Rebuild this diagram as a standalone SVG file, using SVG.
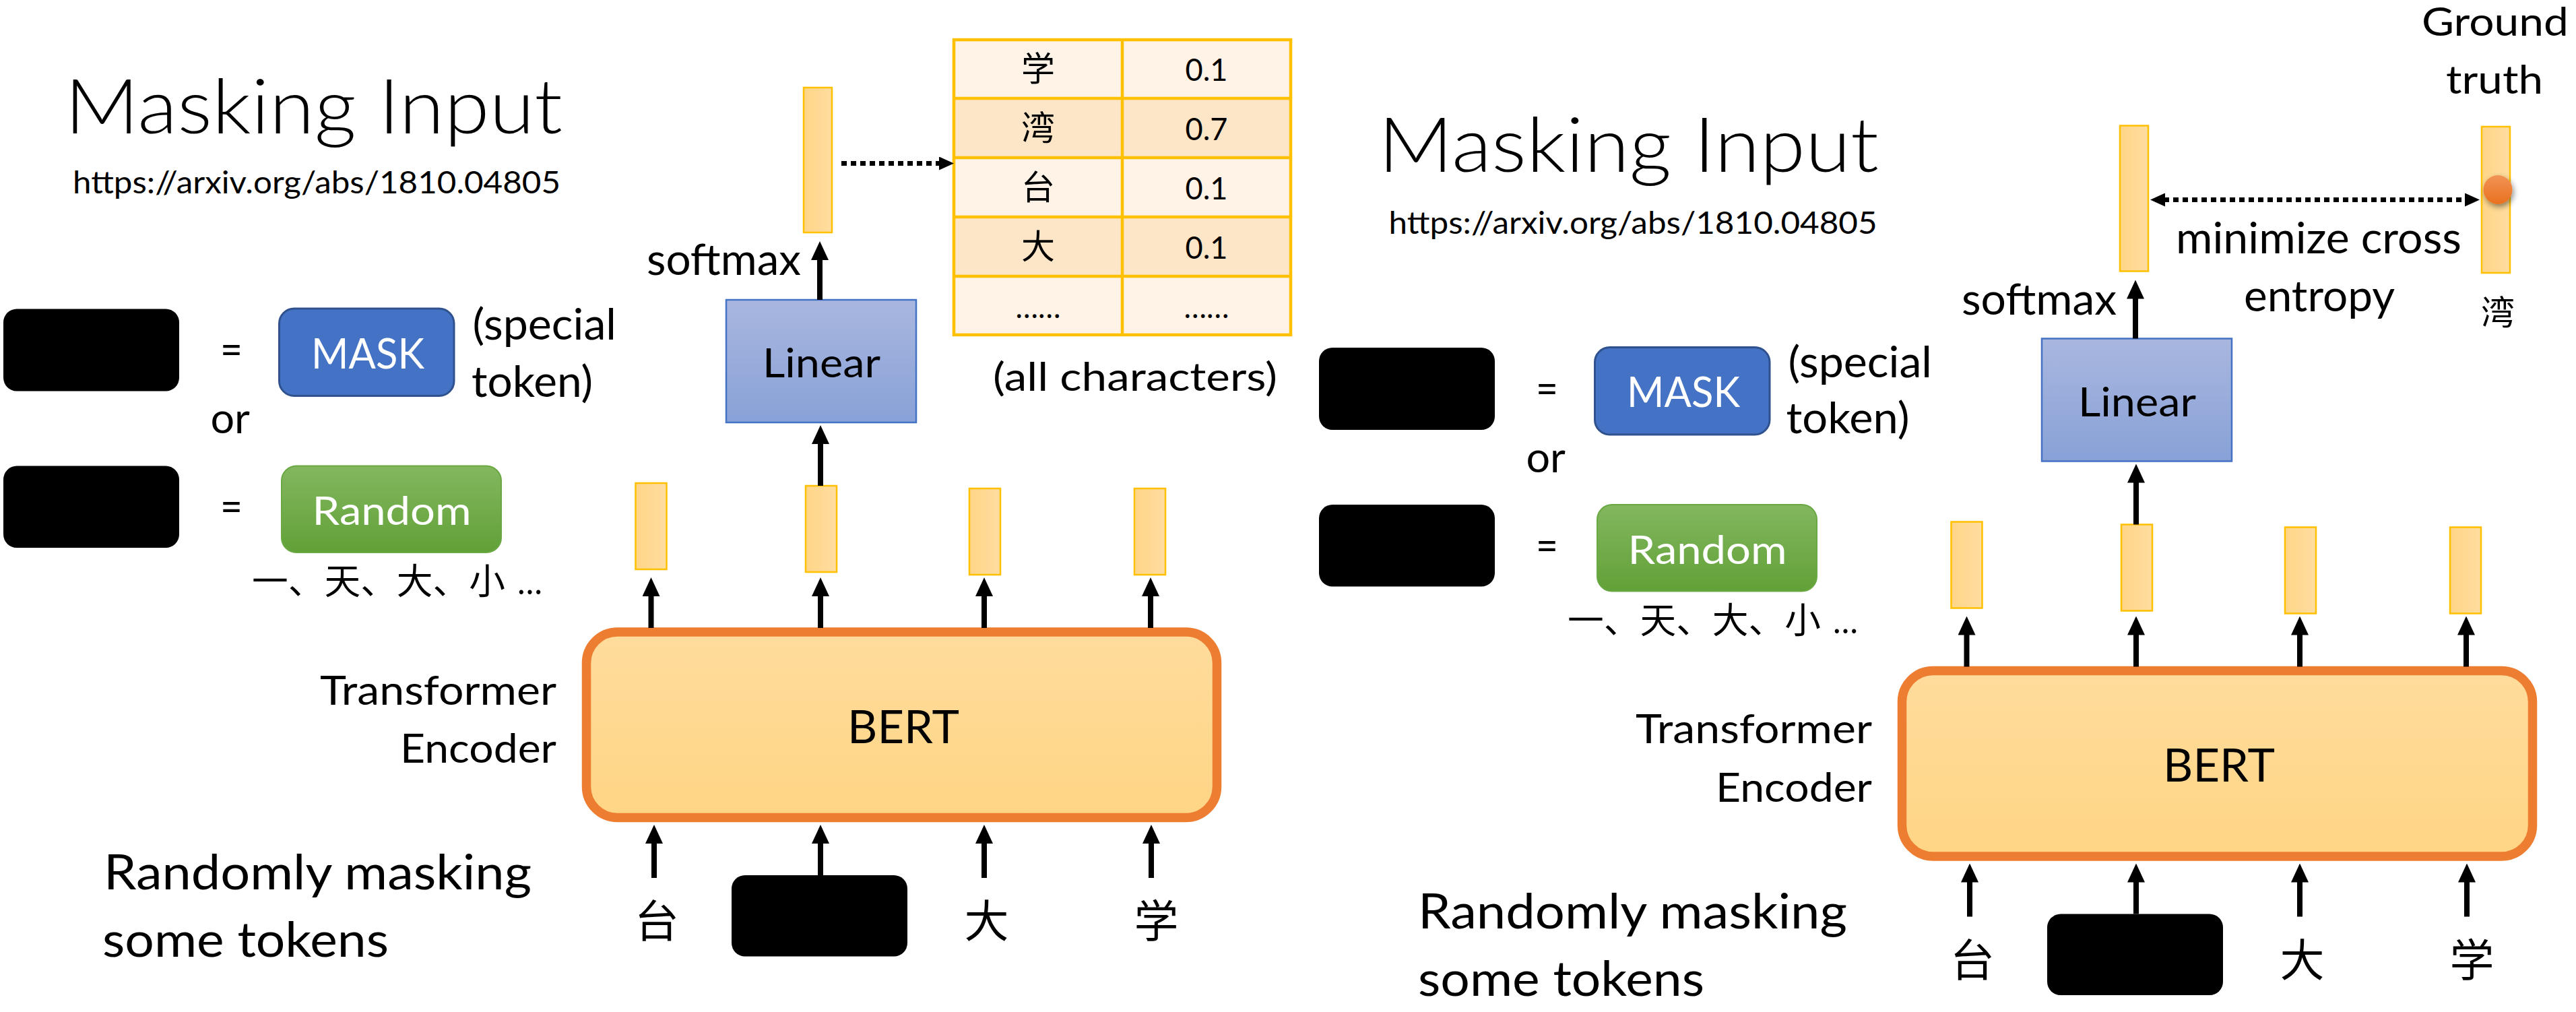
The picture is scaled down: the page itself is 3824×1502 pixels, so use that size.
<svg xmlns="http://www.w3.org/2000/svg" width="3824" height="1502" viewBox="0 0 3824 1502">
<defs>
  <linearGradient id="gVec" x1="0" y1="0" x2="1" y2="0">
    <stop offset="0" stop-color="#FFD587"/>
    <stop offset="1" stop-color="#FFDDA0"/>
  </linearGradient>
  <linearGradient id="gBert" x1="0" y1="0" x2="0" y2="1">
    <stop offset="0" stop-color="#FFDC9C"/>
    <stop offset="1" stop-color="#FFD585"/>
  </linearGradient>
  <linearGradient id="gLin" x1="0" y1="0" x2="0" y2="1">
    <stop offset="0" stop-color="#A9B7DF"/>
    <stop offset="1" stop-color="#88A1D7"/>
  </linearGradient>
  <linearGradient id="gRand" x1="0" y1="0" x2="0" y2="1">
    <stop offset="0" stop-color="#83B75F"/>
    <stop offset="1" stop-color="#61A137"/>
  </linearGradient>
  <linearGradient id="gDot" x1="0" y1="0" x2="0" y2="1">
    <stop offset="0" stop-color="#F19355"/>
    <stop offset="1" stop-color="#E9701F"/>
  </linearGradient>
  <filter id="shadow" x="-50%" y="-50%" width="200%" height="200%">
    <feDropShadow dx="2" dy="4" stdDeviation="4" flood-color="#000" flood-opacity="0.45"/>
  </filter>
  <marker id="ah" viewBox="0 0 28 26" markerWidth="28" markerHeight="26" refX="2" refY="13" orient="auto" markerUnits="userSpaceOnUse">
    <path d="M0,0 L28,13 L0,26 z" fill="#000"/>
  </marker>
  <marker id="ahs" viewBox="0 0 22 20" markerWidth="22" markerHeight="20" refX="2" refY="10" orient="auto-start-reverse" markerUnits="userSpaceOnUse">
    <path d="M0,0 L22,10 L0,20 z" fill="#000"/>
  </marker>
</defs>
<style>
  .t { font-family: Lato, "Open Sans", "Liberation Sans", sans-serif; fill: #000; }
  .cjk { font-family: "Noto Sans CJK SC", "Noto Sans CJK TC", sans-serif; fill: #000; }
  .title { font-size: 112px; font-weight: 300; }
  .url { font-size: 46px; }
  .blk { fill: #000; }
  .vec { fill: url(#gVec); stroke: #FFC000; stroke-width: 2.5; }
  .bert { fill: url(#gBert); stroke: #ED7D31; stroke-width: 13.5; }
  .lin { fill: url(#gLin); stroke: #4472C4; stroke-width: 2.5; }
  .mask { fill: #4472C4; stroke: #2F528F; stroke-width: 3; }
  .rand { fill: url(#gRand); stroke: #6AA843; stroke-width: 2; }
  .cellA { fill: #FEF3E6; }
  .cellB { fill: #FDE6C7; }
  .grid { fill: none; stroke: #FFC000; stroke-width: 4.5; }
  .arr { stroke: #000; stroke-width: 8; fill: none; marker-end: url(#ah); }
  .dot { stroke: #000; stroke-width: 7; stroke-dasharray: 8 6; fill: none; }
  .wt { fill: #fff; }
</style>
<rect x="0" y="0" width="3824" height="1502" fill="#fff"/>

<!-- LEFT PANEL -->
<g id="left-panel">
  <g id="l-title">
    <text class="t title" x="96" y="198" textLength="739" lengthAdjust="spacingAndGlyphs">Masking Input</text>
    <text class="t url" x="108" y="287" textLength="724" lengthAdjust="spacingAndGlyphs">https://arxiv.org/abs/1810.04805</text>
  </g>
  <g id="l-legend-mask">
    <rect class="blk" x="5" y="458.5" width="261" height="122" rx="20"/>
    <text class="t" x="327" y="541" font-size="64" textLength="33" lengthAdjust="spacingAndGlyphs">=</text>
    <rect class="mask" x="414.5" y="458" width="259.5" height="129.5" rx="22"/>
    <text class="t wt" x="546" y="546.6" font-size="61" text-anchor="middle" textLength="168" lengthAdjust="spacingAndGlyphs">MASK</text>
    <text class="t" x="701.5" y="504" font-size="63" textLength="213.5" lengthAdjust="spacingAndGlyphs">(special</text>
    <text class="t" x="700" y="589" font-size="63" textLength="180" lengthAdjust="spacingAndGlyphs">token)</text>
    <text class="t" x="312.5" y="643" font-size="61" textLength="58.5" lengthAdjust="spacingAndGlyphs">or</text>
  </g>
  <g id="l-legend-random">
    <rect class="blk" x="5" y="691.6" width="261" height="121.4" rx="20"/>
    <text class="t" x="327" y="774" font-size="64" textLength="33" lengthAdjust="spacingAndGlyphs">=</text>
    <rect class="rand" x="418" y="691.6" width="326" height="128.4" rx="22"/>
    <text class="t wt" x="581.6" y="779" font-size="58" text-anchor="middle" textLength="236" lengthAdjust="spacingAndGlyphs">Random</text>
    <text class="cjk" x="374" y="882" font-size="53" textLength="376" lengthAdjust="spacingAndGlyphs">一、天、大、小</text>
    <text class="t" x="768" y="882" font-size="52" textLength="37" lengthAdjust="spacingAndGlyphs">…</text>
  </g>
  <g id="l-bert">
    <rect class="bert" x="870.5" y="938" width="936" height="275.5" rx="46"/>
    <text class="t" x="1341" y="1102.6" font-size="68" text-anchor="middle" textLength="166" lengthAdjust="spacingAndGlyphs">BERT</text>
    <text class="t" x="826" y="1045.7" font-size="60" text-anchor="end" textLength="351" lengthAdjust="spacingAndGlyphs">Transformer</text>
    <text class="t" x="826" y="1132" font-size="60" text-anchor="end" textLength="232" lengthAdjust="spacingAndGlyphs">Encoder</text>
  </g>
  <g id="l-vectors">
    <rect class="vec" x="943.5" y="717" width="46" height="128"/>
    <rect class="vec" x="1196" y="721" width="46" height="128"/>
    <rect class="vec" x="1439" y="725" width="46" height="128"/>
    <rect class="vec" x="1684" y="725" width="46" height="128"/>
  </g>
  <g id="l-inputs">
    <text class="cjk" x="975" y="1391" font-size="66" text-anchor="middle">台</text>
    <rect class="blk" x="1086" y="1299" width="261" height="120.6" rx="20"/>
    <text class="cjk" x="1464.5" y="1391" font-size="66" text-anchor="middle">大</text>
    <text class="cjk" x="1716.5" y="1391" font-size="66" text-anchor="middle">学</text>
  </g>
  <g id="l-caption">
    <text class="t" x="154" y="1320" font-size="72" textLength="635" lengthAdjust="spacingAndGlyphs">Randomly masking</text>
    <text class="t" x="152" y="1420" font-size="72" textLength="425" lengthAdjust="spacingAndGlyphs">some tokens</text>
  </g>
  <g id="l-linear">
    <rect class="lin" x="1078" y="445" width="282" height="182"/>
    <text class="t" x="1219.5" y="560" font-size="60" text-anchor="middle" textLength="175" lengthAdjust="spacingAndGlyphs">Linear</text>
    <text class="t" x="960" y="408" font-size="63" textLength="229" lengthAdjust="spacingAndGlyphs">softmax</text>
  </g>
  <g id="l-output">
    <rect class="vec" x="1193" y="130" width="42" height="215"/>
  </g>
  <g id="l-table">
    <rect class="cellA" x="1416" y="59" width="500" height="87"/>
    <rect class="cellB" x="1416" y="146" width="500" height="88"/>
    <rect class="cellA" x="1416" y="234" width="500" height="88"/>
    <rect class="cellB" x="1416" y="322" width="500" height="88"/>
    <rect class="cellA" x="1416" y="410" width="500" height="87"/>
    <rect class="grid" x="1416" y="59" width="500" height="438"/>
    <path class="grid" d="M1666,59 V497 M1416,146 H1916 M1416,234 H1916 M1416,322 H1916 M1416,410 H1916"/>
    <text class="cjk" x="1541" y="120" font-size="50" text-anchor="middle">学</text>
    <text class="cjk" x="1541" y="208" font-size="50" text-anchor="middle">湾</text>
    <text class="cjk" x="1541" y="296" font-size="50" text-anchor="middle">台</text>
    <text class="cjk" x="1541" y="384" font-size="50" text-anchor="middle">大</text>
    <text class="t" x="1541" y="472" font-size="46" text-anchor="middle" textLength="67" lengthAdjust="spacingAndGlyphs">……</text>
    <text class="t" x="1791" y="120" font-size="46" text-anchor="middle" textLength="63" lengthAdjust="spacingAndGlyphs">0.1</text>
    <text class="t" x="1791" y="208" font-size="46" text-anchor="middle" textLength="63" lengthAdjust="spacingAndGlyphs">0.7</text>
    <text class="t" x="1791" y="296" font-size="46" text-anchor="middle" textLength="63" lengthAdjust="spacingAndGlyphs">0.1</text>
    <text class="t" x="1791" y="384" font-size="46" text-anchor="middle" textLength="63" lengthAdjust="spacingAndGlyphs">0.1</text>
    <text class="t" x="1791" y="472" font-size="46" text-anchor="middle" textLength="67" lengthAdjust="spacingAndGlyphs">……</text>
    <text class="t" x="1474" y="580" font-size="58" textLength="422" lengthAdjust="spacingAndGlyphs">(all characters)</text>
  </g>
  <g id="l-connectors">
    <line class="arr" x1="966.5" y1="932" x2="966.5" y2="883"/>
    <line class="arr" x1="1218" y1="932" x2="1218" y2="883"/>
    <line class="arr" x1="1461" y1="932" x2="1461" y2="883"/>
    <line class="arr" x1="1708" y1="932" x2="1708" y2="883"/>
    <line class="arr" x1="971" y1="1303" x2="971" y2="1250"/>
    <line class="arr" x1="1218" y1="1299" x2="1218" y2="1250"/>
    <line class="arr" x1="1461" y1="1303" x2="1461" y2="1250"/>
    <line class="arr" x1="1709" y1="1303" x2="1709" y2="1250"/>
    <line class="arr" x1="1218" y1="721" x2="1218" y2="657"/>
    <line class="arr" x1="1217" y1="445" x2="1217" y2="384"/>
    <line class="dot" x1="1249" y1="242.5" x2="1396" y2="242.5" marker-end="url(#ahs)"/>
  </g>
</g>

<!-- RIGHT PANEL -->
<g id="right-panel" transform="translate(1953,57.5)">
  <g id="r-title">
    <text class="t title" x="93" y="197.5" textLength="743" lengthAdjust="spacingAndGlyphs">Masking Input</text>
    <text class="t url" x="108.6" y="289.3" textLength="725" lengthAdjust="spacingAndGlyphs">https://arxiv.org/abs/1810.04805</text>
  </g>
  <g id="r-legend-mask">
    <rect class="blk" x="5" y="458.5" width="261" height="122" rx="20"/>
    <text class="t" x="327" y="541" font-size="64" textLength="33" lengthAdjust="spacingAndGlyphs">=</text>
    <rect class="mask" x="414.5" y="458" width="259.5" height="129.5" rx="22"/>
    <text class="t wt" x="546" y="546.6" font-size="61" text-anchor="middle" textLength="168" lengthAdjust="spacingAndGlyphs">MASK</text>
    <text class="t" x="701.5" y="502" font-size="63" textLength="213.5" lengthAdjust="spacingAndGlyphs">(special</text>
    <text class="t" x="698.5" y="585" font-size="63" textLength="183" lengthAdjust="spacingAndGlyphs">token)</text>
    <text class="t" x="312.5" y="643" font-size="61" textLength="58.5" lengthAdjust="spacingAndGlyphs">or</text>
  </g>
  <g id="r-legend-random">
    <rect class="blk" x="5" y="691.6" width="261" height="121.4" rx="20"/>
    <text class="t" x="327" y="774" font-size="64" textLength="33" lengthAdjust="spacingAndGlyphs">=</text>
    <rect class="rand" x="418" y="691.6" width="326" height="128.4" rx="22"/>
    <text class="t wt" x="581.6" y="779" font-size="58" text-anchor="middle" textLength="236" lengthAdjust="spacingAndGlyphs">Random</text>
    <text class="cjk" x="374" y="882" font-size="53" textLength="376" lengthAdjust="spacingAndGlyphs">一、天、大、小</text>
    <text class="t" x="768" y="882" font-size="52" textLength="37" lengthAdjust="spacingAndGlyphs">…</text>
  </g>
  <g id="r-bert">
    <rect class="bert" x="870.5" y="938" width="936" height="275.5" rx="46"/>
    <text class="t" x="1341" y="1102.6" font-size="68" text-anchor="middle" textLength="166" lengthAdjust="spacingAndGlyphs">BERT</text>
    <text class="t" x="826" y="1045.7" font-size="60" text-anchor="end" textLength="351" lengthAdjust="spacingAndGlyphs">Transformer</text>
    <text class="t" x="826" y="1132" font-size="60" text-anchor="end" textLength="232" lengthAdjust="spacingAndGlyphs">Encoder</text>
  </g>
  <g id="r-vectors">
    <rect class="vec" x="943.5" y="717" width="46" height="128"/>
    <rect class="vec" x="1196" y="721" width="46" height="128"/>
    <rect class="vec" x="1439" y="725" width="46" height="128"/>
    <rect class="vec" x="1684" y="725" width="46" height="128"/>
  </g>
  <g id="r-inputs">
    <text class="cjk" x="975" y="1391" font-size="66" text-anchor="middle">台</text>
    <rect class="blk" x="1086" y="1299" width="261" height="120.6" rx="20"/>
    <text class="cjk" x="1464.5" y="1391" font-size="66" text-anchor="middle">大</text>
    <text class="cjk" x="1716.5" y="1391" font-size="66" text-anchor="middle">学</text>
  </g>
  <g id="r-caption">
    <text class="t" x="152" y="1320" font-size="72" textLength="637" lengthAdjust="spacingAndGlyphs">Randomly masking</text>
    <text class="t" x="152" y="1420" font-size="72" textLength="425" lengthAdjust="spacingAndGlyphs">some tokens</text>
  </g>
  <g id="r-linear">
    <rect class="lin" x="1078" y="445" width="282" height="182"/>
    <text class="t" x="1219.5" y="560" font-size="60" text-anchor="middle" textLength="175" lengthAdjust="spacingAndGlyphs">Linear</text>
    <text class="t" x="959" y="409" font-size="63" textLength="230" lengthAdjust="spacingAndGlyphs">softmax</text>
  </g>
  <g id="r-output">
    <rect class="vec" x="1194" y="129" width="42" height="216"/>
  </g>
  <g id="r-ground-truth">
    <text class="t" x="1751" y="-5" font-size="58" text-anchor="middle" textLength="218" lengthAdjust="spacingAndGlyphs">Ground</text>
    <text class="t" x="1750" y="81.5" font-size="58" text-anchor="middle" textLength="144" lengthAdjust="spacingAndGlyphs">truth</text>
    <rect class="vec" x="1731" y="130.5" width="42" height="217"/>
    <circle cx="1755" cy="224" r="21.5" fill="url(#gDot)" filter="url(#shadow)"/>
    <text class="cjk" x="1755" y="424" font-size="50" text-anchor="middle">湾</text>
  </g>
  <g id="r-loss-label">
    <text class="t" x="1277" y="318" font-size="64" textLength="424" lengthAdjust="spacingAndGlyphs">minimize cross</text>
    <text class="t" x="1378" y="404" font-size="64" textLength="224" lengthAdjust="spacingAndGlyphs">entropy</text>
  </g>
  <g id="r-connectors">
    <line class="arr" x1="966.5" y1="932" x2="966.5" y2="883"/>
    <line class="arr" x1="1218" y1="932" x2="1218" y2="883"/>
    <line class="arr" x1="1461" y1="932" x2="1461" y2="883"/>
    <line class="arr" x1="1708" y1="932" x2="1708" y2="883"/>
    <line class="arr" x1="971" y1="1303" x2="971" y2="1250"/>
    <line class="arr" x1="1218" y1="1299" x2="1218" y2="1250"/>
    <line class="arr" x1="1461" y1="1303" x2="1461" y2="1250"/>
    <line class="arr" x1="1709" y1="1303" x2="1709" y2="1250"/>
    <line class="arr" x1="1218" y1="721" x2="1218" y2="657"/>
    <line class="arr" x1="1217" y1="445" x2="1217" y2="384"/>
    <line class="dot" x1="1259" y1="239" x2="1708" y2="239" marker-start="url(#ahs)" marker-end="url(#ahs)"/>
  </g>
</g>
</svg>
